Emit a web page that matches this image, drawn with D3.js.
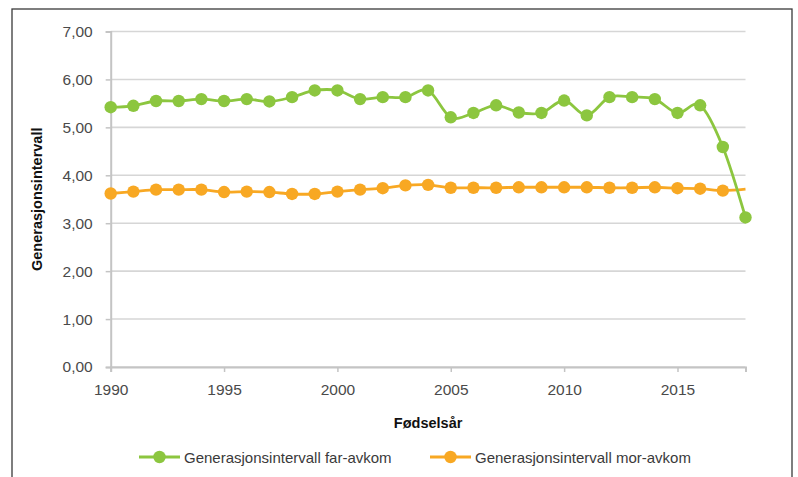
<!DOCTYPE html>
<html>
<head>
<meta charset="utf-8">
<script src="https://cdn.jsdelivr.net/npm/d3@7"></script>
<style>
  html, body { margin: 0; padding: 0; background: #fff; }
  svg { display: block; font-family: "Liberation Sans", Arial, Helvetica, sans-serif; }
</style>
</head>
<body>
<svg id="chart" width="798" height="477"></svg>
<script>
const years = [1990,1991,1992,1993,1994,1995,1996,1997,1998,1999,2000,2001,2002,2003,2004,2005,2006,2007,2008,2009,2010,2011,2012,2013,2014,2015,2016,2017,2018];
const farAvkom = [5.42,5.45,5.55,5.55,5.59,5.55,5.59,5.54,5.63,5.77,5.77,5.59,5.63,5.63,5.77,5.21,5.30,5.46,5.31,5.30,5.56,5.25,5.63,5.63,5.59,5.30,5.46,4.59,3.12];
const morAvkom = [3.62,3.66,3.70,3.70,3.70,3.65,3.66,3.65,3.61,3.61,3.66,3.70,3.73,3.79,3.80,3.74,3.74,3.74,3.75,3.75,3.75,3.75,3.74,3.74,3.75,3.73,3.72,3.68,3.71];
const morMarkerShown = years.map(y => y !== 2018);
const yTicks = [0,1,2,3,4,5,6,7];
const xTicks = [1990,1995,2000,2005,2010,2015];
const seriesNames = ["Generasjonsintervall far-avkom", "Generasjonsintervall mor-avkom"];
const colors = ["#8cc63f", "#f8a823"];

const svg = d3.select("#chart");
const x = d3.scaleLinear().domain([1990, 2018]).range([110.7, 745.5]);
const y = d3.scaleLinear().domain([0, 7]).range([367, 31.5]);

// frame
svg.append("rect").attr("x", 12).attr("y", 9).attr("width", 780).attr("height", 480)
  .attr("fill", "none").attr("stroke", "#3a3a3a").attr("stroke-width", 1.3);

// gridlines
svg.append("g").selectAll("line").data(yTicks).join("line")
  .attr("x1", x(1990)).attr("x2", x(2018))
  .attr("y1", d => y(d)).attr("y2", d => y(d))
  .attr("stroke", "#d6d6d6").attr("stroke-width", 1.6);

// y axis
const yAxis = d3.axisLeft(y).tickValues(yTicks).tickSize(5).tickPadding(13)
  .tickFormat(d => d3.format(".2f")(d).replace(".", ","));
const gy = svg.append("g").attr("transform", `translate(${x(1990)},0)`).call(yAxis);
gy.select(".domain").attr("stroke", "#c4c4c4").attr("stroke-width", 2);
gy.selectAll(".tick line").attr("stroke", "#c4c4c4").attr("stroke-width", 1.5);
gy.selectAll(".tick text").attr("fill", "#4a4a4a").attr("font-size", 15.5)
  .attr("font-family", "Liberation Sans, Arial, sans-serif");

// x axis
const xAxis = d3.axisBottom(x).tickValues(xTicks).tickSize(5).tickPadding(12).tickFormat(d3.format("d"));
const gx = svg.append("g").attr("transform", `translate(0,${y(0)})`).call(xAxis);
gx.select(".domain").attr("stroke", "#c4c4c4").attr("stroke-width", 2);
gx.selectAll(".tick line").attr("stroke", "#c4c4c4").attr("stroke-width", 1.5);
gx.selectAll(".tick text").attr("fill", "#4a4a4a").attr("font-size", 15.5)
  .attr("font-family", "Liberation Sans, Arial, sans-serif");

// axis titles
svg.append("text").attr("x", (x(1990) + x(2018)) / 2).attr("y", 428)
  .attr("text-anchor", "middle").attr("font-size", 14.5).attr("font-weight", "bold")
  .attr("fill", "#111").text("Fødselsår");
svg.append("text").attr("transform", `translate(42,${(y(0) + y(7)) / 2}) rotate(-90)`)
  .attr("text-anchor", "middle").attr("font-size", 14.5).attr("font-weight", "bold")
  .attr("fill", "#111").text("Generasjonsintervall");

// lines
const line = d3.line().x((d, i) => x(years[i])).y(d => y(d)).curve(d3.curveCardinal.tension(0));
const series = [farAvkom, morAvkom];
// draw orange first, then green on top
[1, 0].forEach(si => {
  const vals = series[si];
  svg.append("path").datum(vals).attr("d", line)
    .attr("fill", "none").attr("stroke", colors[si]).attr("stroke-width", 2.8)
    .attr("stroke-linejoin", "round");
  svg.append("g").selectAll("circle")
    .data(vals.map((v, i) => ({ v, i })).filter(d => si === 0 || morMarkerShown[d.i]))
    .join("circle")
    .attr("cx", d => x(years[d.i])).attr("cy", d => y(d.v)).attr("r", 6.2)
    .attr("fill", colors[si]);
});

// legend
const legendItems = [{ x0: 139, name: seriesNames[0], c: colors[0] }, { x0: 430, name: seriesNames[1], c: colors[1] }];
const lg = svg.append("g");
legendItems.forEach(it => {
  lg.append("line").attr("x1", it.x0).attr("x2", it.x0 + 41).attr("y1", 457).attr("y2", 457)
    .attr("stroke", it.c).attr("stroke-width", 2.8);
  lg.append("circle").attr("cx", it.x0 + 20.5).attr("cy", 457).attr("r", 6.2).attr("fill", it.c);
  lg.append("text").attr("x", it.x0 + 45).attr("y", 462.5).attr("font-size", 15)
    .attr("fill", "#3a3a3a").text(it.name);
});
</script>
</body>
</html>
